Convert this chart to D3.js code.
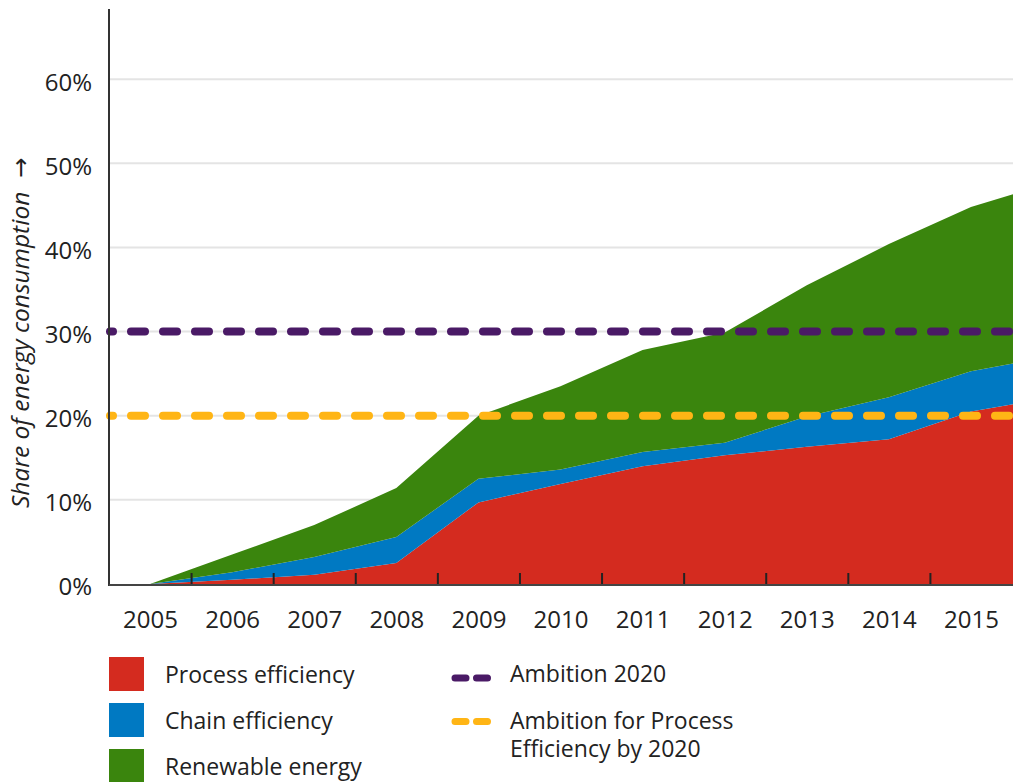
<!DOCTYPE html>
<html>
<head>
<meta charset="utf-8">
<script src="https://cdn.jsdelivr.net/npm/d3@7/dist/d3.min.js"></script>
<style>
  body { margin: 0; background: #fff; }
  svg { display: block; font-family: "Open Sans", "DejaVu Sans", sans-serif; }
</style>
</head>
<body>
<div id="chart"></div>
<script>
// values, in percent of energy consumption
const years = [2005, 2006, 2007, 2008, 2009, 2010, 2011, 2012, 2013, 2014, 2015, 2016];
const processEff = [0, 0.5, 1.1, 2.5, 9.7, 11.9, 14.0, 15.3, 16.3, 17.2, 20.5, 22.2];
const chainEff = [0, 0.9, 2.1, 3.1, 2.8, 1.7, 1.7, 1.5, 3.6, 5.0, 4.8, 4.9];
const renewable = [0, 2.1, 3.8, 5.8, 7.5, 9.9, 12.1, 13.1, 15.6, 18.2, 19.5, 20.7];

const tickYears = [2005, 2006, 2007, 2008, 2009, 2010, 2011, 2012, 2013, 2014, 2015];
const yTicks = [0, 10, 20, 30, 40, 50, 60];

const seriesNames = ["Process efficiency", "Chain efficiency", "Renewable energy"];
const seriesColors = ["#d42b1f", "#0079c2", "#3a850d"];

const targetNames = ["Ambition 2020", "Ambition for Process", "Efficiency by 2020"];
const targetValues = [30, 20];
const targetColors = ["#4a1a66", "#ffb515"];

const width = 1013, height = 782;

const svg = d3.select("#chart").append("svg")
    .attr("width", width)
    .attr("height", height);

const x = d3.scaleLinear().domain([2004.5, 2015.5]).range([109, 1012]);
const y = d3.scaleLinear().domain([0, 60]).range([584, 79.2]);

// gridlines
svg.append("g")
    .selectAll("line")
    .data(yTicks.filter(d => d > 0))
    .enter().append("line")
    .attr("x1", x(2004.5)).attr("x2", width)
    .attr("y1", d => y(d)).attr("y2", d => y(d))
    .attr("stroke", "#e4e4e4")
    .attr("stroke-width", 2);

// stacked areas
const table = years.map((yr, i) => ({
    year: yr,
    "Process efficiency": processEff[i],
    "Chain efficiency": chainEff[i],
    "Renewable energy": renewable[i]
}));
const stacked = d3.stack().keys(seriesNames)(table);

const area = d3.area()
    .x(d => x(d.data.year))
    .y0(d => y(d[0]))
    .y1(d => y(d[1]));

svg.append("g")
    .selectAll("path")
    .data(stacked)
    .enter().append("path")
    .attr("d", area)
    .attr("fill", (d, i) => seriesColors[i]);

// target lines
svg.append("g")
    .selectAll("line")
    .data(targetValues)
    .enter().append("line")
    .attr("x1", x(2004.5) + 1).attr("x2", width + 10)
    .attr("y1", d => y(d)).attr("y2", d => y(d))
    .attr("stroke", (d, i) => targetColors[i])
    .attr("stroke-width", 8)
    .attr("stroke-linecap", "round")
    .attr("stroke-dasharray", "14 18")
    .attr("stroke-dashoffset", 11);

// y axis
const yAxis = svg.append("g")
    .attr("transform", `translate(${x(2004.5)},0)`)
    .call(d3.axisLeft(y).tickValues(yTicks).tickFormat(d => d + "%").tickSize(0).tickPadding(17));
yAxis.select(".domain").remove();
yAxis.selectAll("text")
    .attr("font-size", 24)
    .attr("font-family", "Open Sans")
    .attr("fill", "#222")
    .attr("dy", "0.45em");

svg.append("line")
    .attr("x1", x(2004.5)).attr("x2", x(2004.5))
    .attr("y1", 9).attr("y2", 586)
    .attr("stroke", "#333").attr("stroke-width", 2);

// x axis: labels at years, ticks between them
const xAxis = svg.append("g")
    .attr("transform", `translate(0,585)`)
    .call(d3.axisBottom(x).tickValues(tickYears).tickFormat(d3.format("d")).tickSize(0).tickPadding(26));
xAxis.select(".domain").remove();
xAxis.selectAll("text")
    .attr("font-size", 24)
    .attr("font-family", "Open Sans")
    .attr("fill", "#222");

const xTicks = svg.append("g")
    .attr("transform", `translate(0,585)`)
    .call(d3.axisBottom(x).tickValues(tickYears.slice(0, -1).map(d => d + 0.5)).tickFormat("").tickSizeInner(-12).tickSizeOuter(0));
xTicks.select(".domain").remove();
xTicks.selectAll(".tick line").attr("stroke", "#222").attr("stroke-width", 2);

svg.append("line")
    .attr("x1", x(2004.5)).attr("x2", width)
    .attr("y1", 585).attr("y2", 585)
    .attr("stroke", "#444").attr("stroke-width", 2);

// y title
const yTitle = svg.append("text")
    .attr("transform", "translate(29,508) rotate(-90)")
    .attr("font-size", 24.5)
    .attr("font-style", "italic")
    .attr("fill", "#222");
yTitle.append("tspan").text("Share of energy consumption");
yTitle.append("tspan")
    .attr("dx", 14)
    .attr("font-style", "normal")
    .text("\u2192");

// legend: areas
const legA = svg.append("g")
    .selectAll("g")
    .data(seriesNames)
    .enter().append("g")
    .attr("transform", (d, i) => `translate(109,${657 + i * 46})`);
legA.append("rect")
    .attr("width", 35).attr("height", 34)
    .attr("fill", (d, i) => seriesColors[i]);
legA.append("text")
    .attr("x", 56).attr("y", 26)
    .attr("font-size", 23)
    .attr("fill", "#222")
    .text(d => d);

// legend: target lines
const legL = svg.append("g")
    .selectAll("line")
    .data(targetColors)
    .enter().append("line")
    .attr("x1", 455).attr("x2", 488)
    .attr("y1", (d, i) => 678 + i * 43.5)
    .attr("y2", (d, i) => 678 + i * 43.5)
    .attr("stroke", d => d)
    .attr("stroke-width", 7)
    .attr("stroke-linecap", "round")
    .attr("stroke-dasharray", "11 10.5");
const legTextY = [682, 729, 757];
svg.append("g")
    .selectAll("text")
    .data(targetNames)
    .enter().append("text")
    .attr("x", 510)
    .attr("y", (d, i) => legTextY[i])
    .attr("font-size", 23)
    .attr("fill", "#222")
    .text(d => d);
</script>
</body>
</html>
